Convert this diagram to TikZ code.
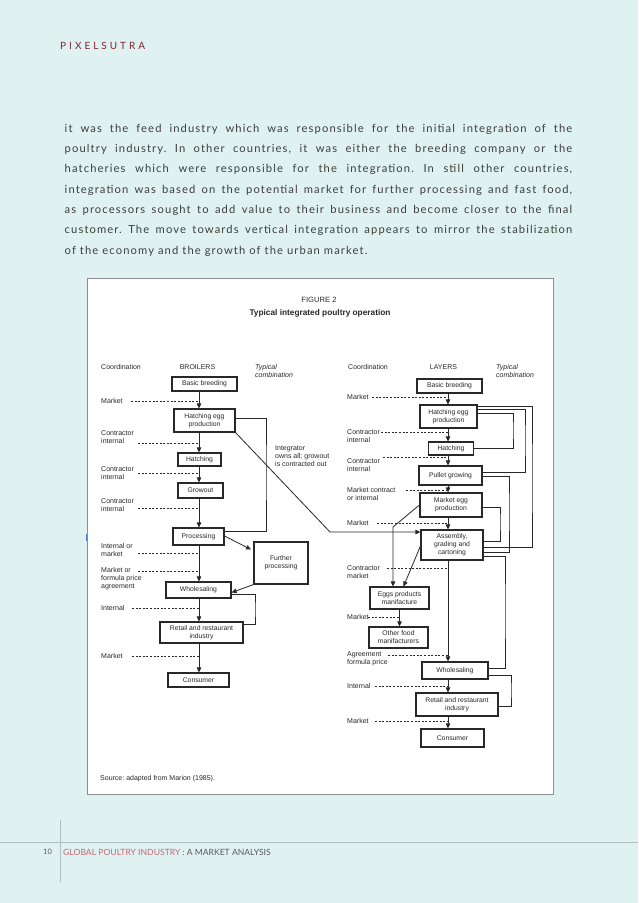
\documentclass[tikz,border=0pt]{standalone}
\usepackage{fontspec}
\setmainfont{Lato}
\newfontfamily\figfont{Liberation Sans}
\newfontfamily\parafont[LetterSpace=10]{Lato}
\newfontfamily\headfont[LetterSpace=30]{Lato}
\usetikzlibrary{arrows.meta,calc}
\definecolor{pagebg}{RGB}{223,241,241}
\definecolor{paratext}{RGB}{62,62,62}
\definecolor{brand}{RGB}{125,40,48}
\definecolor{footpink}{RGB}{196,105,118}
\definecolor{footgray}{RGB}{90,90,90}
\definecolor{rulegray}{RGB}{178,190,190}
\definecolor{framegray}{RGB}{135,145,145}
\definecolor{ink}{RGB}{40,40,40}
\tikzset{
  para/.style={anchor=base west, inner sep=0, text=paratext, font=\parafont\fontsize{11.2}{13}\selectfont},
  fbox/.style={draw=ink, line width=1.1pt, inner sep=0, align=center, text=ink,
    font=\figfont\fontsize{6.8}{8}\selectfont},
  lbl/.style={anchor=west, align=left, inner sep=0, text=ink, font=\figfont\fontsize{7}{8}\selectfont},
  arr/.style={draw=ink, line width=0.8pt, -{Triangle[length=5pt,width=4.5pt]}},
  cline/.style={draw=ink, line width=0.7pt},
  dline/.style={draw=ink, line width=0.8pt, dash pattern=on 2pt off 1.6pt},
}
\begin{document}
\begin{tikzpicture}[x=1pt,y={(0,-1pt)}]
\fill[pagebg] (0,0) rectangle (638,903);
\useasboundingbox (0,0) rectangle (638,903);
\frenchspacing
% header
\node[anchor=west, inner sep=0, text=brand, font=\headfont\fontsize{10}{12}\selectfont] (brandname) at (60,46) {PIXELSUTRA};
% paragraph
\node[para] (p1) at (64.5,132) {\makebox[507.5pt][s]{it was the feed industry which was responsible for the initial integration of the}};
\node[para] (p2) at (64.5,152.3) {\makebox[507.5pt][s]{poultry industry. In other countries, it was either the breeding company or the}};
\node[para] (p3) at (64.5,172.7) {\makebox[507.5pt][s]{hatcheries which were responsible for the integration. In still other countries,}};
\node[para] (p4) at (64.5,193) {\makebox[507.5pt][s]{integration was based on the potential market for further processing and fast food,}};
\node[para] (p5) at (64.5,213.3) {\makebox[507.5pt][s]{as processors sought to add value to their business and become closer to the final}};
\node[para] (p6) at (64.5,233.7) {\makebox[507.5pt][s]{customer. The move towards vertical integration appears to mirror the stabilization}};
\node[para] (p7) at (64.5,254) {of the economy and the growth of the urban market.};
% figure frame
\filldraw[fill=white, draw=framegray, line width=0.9pt] (87.5,278) rectangle (553,794);
\draw[line width=0.9pt, draw={rgb,255:red,70;green,120;blue,200}] (86,534) -- (86,541);
\node[inner sep=0, text=ink, font=\figfont\fontsize{7.6}{9}\selectfont] (figno) at (319,300) {FIGURE 2};
\node[inner sep=0, text=ink, font=\figfont\bfseries\fontsize{8.3}{10}\selectfont] (figtitle) at (320,313) {Typical integrated poultry operation};
% column heads
\node[lbl] (hc1) at (101,367) {Coordination};
\node[lbl, anchor=center] (hb1) at (197.5,367) {BROILERS};
\node[lbl, font=\figfont\itshape\fontsize{7}{8}\selectfont] (ht1) at (255,371) {Typical\\combination};
\node[lbl] (hc2) at (348,367) {Coordination};
\node[lbl, anchor=center] (hb2) at (443.5,367) {LAYERS};
\node[lbl, font=\figfont\itshape\fontsize{7}{8}\selectfont] (ht2) at (496,371) {Typical\\combination};
% spines
\coordinate (sp1) at (199,0);
\coordinate (sp2) at (448,0);
% ---------- BROILERS ----------
\node[fbox, minimum width=65pt, minimum height=14pt] (bb1) at (204.5,384) {Basic breeding};
\node[fbox, minimum width=61pt, minimum height=23pt] (he1) at (204.5,420.5) {Hatching egg\\production};
\node[fbox, minimum width=43pt, minimum height=13pt] (ha1) at (199.5,459.5) {Hatching};
\node[fbox, minimum width=45pt, minimum height=15pt] (gr1) at (200.5,490.5) {Growout};
\node[fbox, minimum width=51pt, minimum height=17pt] (pr1) at (198.5,536.5) {Processing};
\node[fbox, minimum width=54pt, minimum height=42pt] (fp1) at (281,563) {Further\\processing};
\node[fbox, minimum width=65pt, minimum height=16pt] (wh1) at (198.5,590) {Wholesaling};
\node[fbox, minimum width=83pt, minimum height=21pt] (rr1) at (201.5,632.5) {Retail and restaurant\\industry};
\node[fbox, minimum width=61pt, minimum height=14pt] (co1) at (198.5,680) {Consumer};
% broiler labels
\node[lbl] (l1) at (101,401) {Market};
\node[lbl] (l2) at (101,437) {Contractor\\internal};
\node[lbl] (l3) at (101,473) {Contractor\\internal};
\node[lbl] (l4) at (101,505) {Contractor\\internal};
\node[lbl] (l5) at (101,549.5) {Internal or\\market};
\node[lbl] (l6) at (101,579) {Market or\\formula price\\agreement};
\node[lbl] (l7) at (101,608) {Internal};
\node[lbl] (l8) at (101,656) {Market};
\node[lbl] (intg) at (275,456) {Integrator\\owns all; growout\\is contracted out};
% broiler dashed lines
\coordinate (d1) at (131,401);
\coordinate (d2) at (138,443);
\coordinate (d3) at (138,473);
\coordinate (d4) at (138,508);
\coordinate (d5) at (138,553);
\coordinate (d6) at (138,571);
\coordinate (d7) at (132,608);
\coordinate (d8) at (132,656);
\foreach \d in {d1,d2,d3,d4,d5,d6,d7,d8} \draw[dline] (\d) -- (\d -| sp1);
% broiler arrows
\draw[arr] (bb1.south -| sp1) -- (he1.north -| sp1);
\draw[arr] (he1.south -| sp1) -- (ha1.north -| sp1);
\draw[arr] (ha1.south -| sp1) -- (gr1.north -| sp1);
\draw[arr] (gr1.south -| sp1) -- (pr1.north -| sp1);
\draw[arr] (pr1.south -| sp1) -- (wh1.north -| sp1);
\draw[arr] (wh1.south -| sp1) -- (rr1.north -| sp1);
\draw[arr] (rr1.south -| sp1) -- (co1.north -| sp1);
\coordinate (fpA) at (251,549.5);
\draw[arr] ([shift={(0,-0.5)}]pr1.east) -- (fpA);
\draw[arr] (fp1.south west) -- ([shift={(0,2.5)}]wh1.east);
\coordinate (cb1) at (266,470);
\coordinate (cb2) at (255,610);
\draw[cline] ([shift={(0,-2.5)}]he1.east) -| (cb1) |- ([shift={(0,-5.5)}]pr1.east);
\draw[cline] ([shift={(0,4)}]wh1.east) -| (cb2) |- ([shift={(0,-8)}]rr1.east);
% ---------- LAYERS ----------
\node[fbox, minimum width=65pt, minimum height=14pt] (bb2) at (449.5,386) {Basic breeding};
\node[fbox, minimum width=57pt, minimum height=23pt] (he2) at (448.5,416.5) {Hatching egg\\production};
\node[fbox, minimum width=45pt, minimum height=13pt] (ha2) at (451,448.5) {Hatching};
\node[fbox, minimum width=63pt, minimum height=19pt] (pu2) at (450.5,475.5) {Pullet growing};
\node[fbox, minimum width=62pt, minimum height=24pt] (me2) at (451,505) {Market egg\\production};
\node[fbox, minimum width=62pt, minimum height=30pt] (as2) at (452,545) {Assembly,\\grading and\\cartoning};
\node[fbox, minimum width=59pt, minimum height=22pt] (ep2) at (399.5,598) {Eggs products\\manifacture};
\node[fbox, minimum width=59pt, minimum height=21pt] (of2) at (398.5,637.5) {Other food\\manifacturers};
\node[fbox, minimum width=66pt, minimum height=17pt] (wh2) at (455,670.5) {Wholesaling};
\node[fbox, minimum width=82pt, minimum height=23pt] (rr2) at (457,704.5) {Retail and restaurant\\industry};
\node[fbox, minimum width=63pt, minimum height=18pt] (co2) at (452.5,738) {Consumer};
% layer labels
\node[lbl] (m1) at (347,397) {Market};
\node[lbl] (m2) at (347,436.5) {Contractor\\internal};
\node[lbl] (m3) at (347,465) {Contractor\\internal};
\node[lbl] (m4) at (347,494) {Market contract\\or internal};
\node[lbl] (m5) at (347,523) {Market};
\node[lbl] (m6) at (347,572) {Contractor\\market};
\node[lbl] (m7) at (347,617) {Market};
\node[lbl] (m8) at (347,659) {Agreement\\formula price};
\node[lbl] (m9) at (347,686) {Internal};
\node[lbl] (m10) at (347,721) {Market};
% layer dashed lines
\coordinate (e1) at (372,397);
\coordinate (e2) at (381,432);
\coordinate (e3) at (383,457);
\coordinate (e4) at (406,490);
\coordinate (e5) at (377,523);
\coordinate (e6) at (387,568);
\coordinate (e8) at (388,655);
\coordinate (e9) at (375,686);
\coordinate (e10) at (375,721);
\foreach \d in {e1,e2,e3,e4,e5,e6,e8,e9,e10} \draw[dline] (\d) -- (\d -| sp2);
\coordinate (e7) at (368,617);
\draw[dline] (e7) -- (e7 -| ep2.south);
% layer arrows
\draw[arr] (bb2.south -| sp2) -- (he2.north -| sp2);
\draw[arr] (he2.south -| sp2) -- (ha2.north -| sp2);
\draw[arr] (ha2.south -| sp2) -- (pu2.north -| sp2);
\draw[arr] (pu2.south -| sp2) -- (me2.north -| sp2);
\draw[arr] (me2.south -| sp2) -- (as2.north -| sp2);
\draw[arr] (as2.south -| sp2) -- (wh2.north -| sp2);
\draw[arr] (wh2.south -| sp2) -- (rr2.north -| sp2);
\draw[arr] (rr2.south -| sp2) -- (co2.north -| sp2);
\draw[arr] (ep2.south) -- (ep2.south |- of2.north);
\coordinate (bend2) at (393,527);
\draw[arr] (me2.west) -- (bend2) -- (bend2 |- ep2.north);
\draw[arr] ([shift={(0,1)}]as2.west) -- ($(ep2.north)+(4,0)$);
% integrator diagonal
\coordinate (bend1) at (330,532);
\draw[arr] (he1.south east) -- (bend1) -- (bend1 -| as2.west);
% layer combination lines
\coordinate (cl1) at (513,430);
\coordinate (cl2) at (525,440);
\coordinate (cl3) at (532,480);
\coordinate (cl4) at (509,510);
\coordinate (cl5) at (500,520);
\coordinate (cl6) at (505,610);
\coordinate (cl7) at (511,690);
\draw[cline] ([shift={(0,-3.5)}]he2.east) -| (cl1) |- (ha2.east);
\draw[cline] ([shift={(0,-7.5)}]he2.east) -| (cl2) |- ([shift={(0,-3.5)}]pu2.east);
\draw[cline] ([shift={(0,-10.5)}]he2.east) -| (cl3) |- ([shift={(0,2)}]as2.east);
\draw[cline] ([shift={(0,0.5)}]pu2.east) -| (cl4) |- ([shift={(0,7)}]as2.east);
\draw[cline] ([shift={(0,2)}]me2.east) -| (cl5) |- ([shift={(0,-4)}]as2.east);
\draw[cline] ([shift={(0,11)}]as2.east) -| (cl6) |- ([shift={(0,-2.5)}]wh2.east);
\draw[cline] ([shift={(0,4.5)}]wh2.east) -| (cl7) |- ([shift={(0,1.5)}]rr2.east);
% source
\node[lbl] (src) at (100,779) {Source: adapted from Marion (1985).};
% footer
\draw[rulegray, line width=0.8pt] (0,842) -- (638,842);
\coordinate (vt) at (60,820);
\coordinate (vb) at (60,882);
\draw[rulegray, line width=0.8pt] (vt) -- (vb);
\node[inner sep=0, text=footgray, font=\fontsize{7.5}{9}\selectfont] (pgno) at (47.5,852) {10};
\node[anchor=west, inner sep=0, text=footgray, font=\fontsize{8.6}{10}\selectfont] (foot) at (63,852) {\textcolor{footpink}{GLOBAL POULTRY INDUSTRY} : A MARKET ANALYSIS};
\end{tikzpicture}
\end{document}
